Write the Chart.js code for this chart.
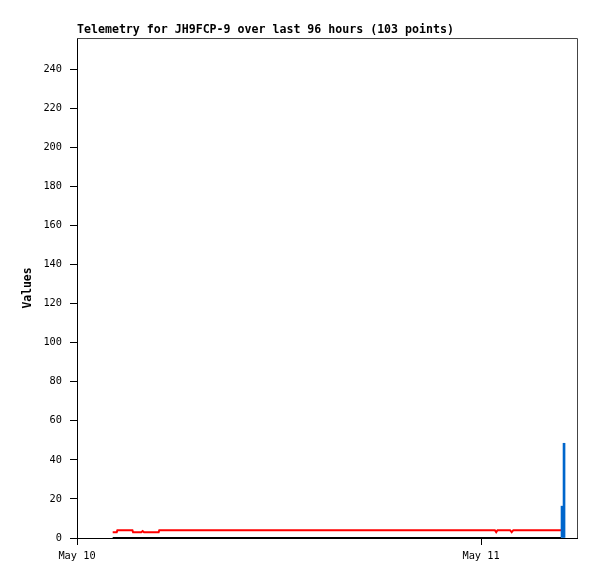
<!DOCTYPE html>
<html>
<head>
<meta charset="utf-8">
<title>Telemetry</title>
<script src="https://cdn.jsdelivr.net/npm/chart.js@4.4.1/dist/chart.umd.min.js"></script>
<style>
  body { margin: 0; background: #fff; }
  #wrap { width: 597px; height: 579px; }
</style>
</head>
<body>
<div id="wrap"><canvas id="myChart" width="597" height="579"></canvas></div>
<script>
// hours since May 10 00:00
const tickHours = [0, 24];
const tickLabels = ["May 10", "May 11"];

const redHours = [2.12, 2.36, 2.40, 3.29, 3.33, 3.82, 3.90, 3.98, 4.85, 4.89, 24.82, 24.90, 24.98, 25.72, 25.82, 25.92, 28.75];
const redValues = [3, 3, 4, 4, 3, 3, 3.6, 3, 3, 4, 4, 3, 4, 4, 3, 4, 4];

const blackHours = [2.12, 28.75];
const blackValues = [0, 0];

const blueHours = [28.81, 28.93];
const blueValues = [16.3, 48.5];

const monoFont = "'DejaVu Sans Mono', 'Liberation Mono', monospace";

function toPoints(xs, ys) {
  return xs.map(function (x, i) { return { x: x, y: ys[i] }; });
}

// white background + frame on top and right
const framePlugin = {
  id: "frame",
  beforeDraw: function (chart) {
    const ctx = chart.ctx;
    ctx.save();
    ctx.fillStyle = "#fff";
    ctx.fillRect(0, 0, chart.width, chart.height);
    ctx.restore();
  },
  afterDraw: function (chart) {
    const a = chart.chartArea;
    const ctx = chart.ctx;
    ctx.save();
    ctx.strokeStyle = "#444";
    ctx.lineWidth = 1;
    ctx.beginPath();
    ctx.moveTo(a.left, a.top + 0.5);
    ctx.lineTo(a.right + 0.5, a.top + 0.5);
    ctx.lineTo(a.right + 0.5, a.bottom);
    ctx.stroke();
    ctx.restore();
  }
};

const ctx = document.getElementById("myChart").getContext("2d");
new Chart(ctx, {
  data: {
    datasets: [
      {
        type: "bar",
        label: "blue",
        data: toPoints(blueHours, blueValues),
        backgroundColor: "#0066cc",
        borderWidth: 0,
        barThickness: 2,
        order: 1
      },
      {
        type: "line",
        label: "red",
        data: toPoints(redHours, redValues),
        borderColor: "#ff0000",
        borderWidth: 2,
        pointRadius: 0,
        tension: 0,
        order: 2
      },
      {
        type: "line",
        label: "black",
        data: toPoints(blackHours, blackValues),
        borderColor: "#000",
        borderWidth: 2,
        pointRadius: 0,
        clip: false,
        order: 3
      }
    ]
  },
  options: {
    responsive: false,
    animation: false,
    layout: { padding: { top: 0, right: 20, left: 0, bottom: 0 } },
    plugins: {
      legend: { display: false },
      tooltip: { enabled: false },
      title: {
        display: true,
        text: "Telemetry for JH9FCP-9 over last 96 hours (103 points)",
        align: "start",
        fullSize: false,
        color: "#000",
        font: { family: monoFont, size: 11.6, weight: "bold" },
        padding: { top: 23, bottom: 1.1 }
      }
    },
    scales: {
      x: {
        type: "linear",
        min: 0,
        max: 29.7,
        offset: false,
        afterBuildTicks: function (scale) {
          scale.ticks = tickHours.map(function (h) { return { value: h }; });
        },
        afterFit: function (scale) { scale.height = 41; },
        ticks: {
          color: "#000",
          maxRotation: 0,
          autoSkip: false,
          padding: 5,
          font: { family: monoFont, size: 10.3 },
          callback: function (value) {
            const i = tickHours.indexOf(value);
            return i >= 0 ? tickLabels[i] : "";
          }
        },
        grid: { drawOnChartArea: false, offset: false, tickLength: 7, color: "#000" },
        border: { color: "#000", width: 1 }
      },
      y: {
        min: 0,
        max: 256,
        afterBuildTicks: function (scale) {
          scale.ticks = scale.ticks.filter(function (t) { return t.value % 20 === 0; });
        },
        afterFit: function (scale) { scale.width = 77; },
        ticks: {
          stepSize: 20,
          color: "#000",
          padding: 8,
          font: { family: monoFont, size: 10.3 }
        },
        title: {
          display: true,
          text: "Values",
          color: "#000",
          font: { family: monoFont, size: 11.4, weight: "bold" },
          padding: { top: 21, bottom: 0 }
        },
        grid: { drawOnChartArea: false, tickLength: 7, color: "#000" },
        border: { color: "#000", width: 1 }
      }
    }
  },
  plugins: [framePlugin]
});
</script>
</body>
</html>
